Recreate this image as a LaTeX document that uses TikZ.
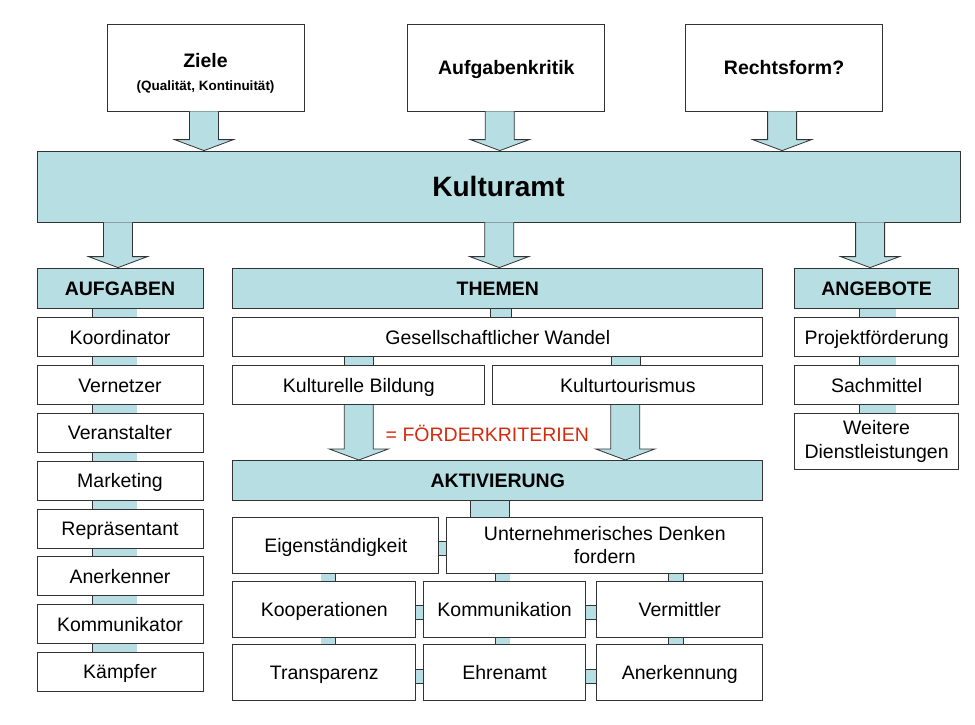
\documentclass[tikz,border=0pt]{standalone}
\usepackage{fontspec}
\setmainfont{Liberation Sans}
\usepackage{tikz}
\usetikzlibrary{positioning, calc, backgrounds}
\definecolor{boxblue}{HTML}{B7DEE3}
\definecolor{linegray}{HTML}{333333}
\definecolor{fkred}{HTML}{D42A0E}

\newcommand{\txtnorm}{\fontsize{19.5}{23.5}\selectfont}
\newcommand{\txthead}{\fontsize{19.5}{23.5}\selectfont\bfseries}
\newcommand{\txttitle}{\fontsize{19.5}{23}\selectfont\bfseries}
\newcommand{\txtsmall}{\fontsize{13.5}{16}\selectfont\bfseries}
\newcommand{\txtbig}{\fontsize{28}{32}\selectfont\bfseries}

% block arrow: [x shift]{start point}{target node}
\newcommand{\bigarrow}[3][0]{%
  \path #2 ++(#1,0) coordinate (ba-top);
  \coordinate (ba-tip) at (ba-top |- #3.north);
  \filldraw[bigarr] ($(ba-top)+(-14.5,0)$) -- ($(ba-tip)+(-14.5,11)$)
    -- ($(ba-tip)+(-29.5,11)$) -- (ba-tip) -- ($(ba-tip)+(29.5,11)$)
    -- ($(ba-tip)+(14.5,11)$) -- ($(ba-top)+(14.5,0)$);
}

\begin{document}
\begin{tikzpicture}[x=1pt, y=1pt,
    box/.style={rectangle, draw=linegray, fill=white, line width=0.8pt,
                inner sep=0pt, minimum width=166pt, minimum height=39pt,
                text height=18pt, text depth=4pt,
                align=center, font=\txtnorm},
    multi/.style={text height=, text depth=},
    head/.style={box, fill=boxblue, minimum height=40pt, font=\txthead},
    tall/.style={box, minimum height=56pt},
    goalbox/.style={box, minimum width=197pt, minimum height=87pt, font=\txttitle},
    link/.style={draw=linegray, line width=0.8pt, double=boxblue, double distance=#1},
    bigarr/.style={draw=linegray, fill=boxblue, line width=0.8pt},
    node distance=8pt
]
    \useasboundingbox (0,0) rectangle (975,-724);

    % Top row
    \node[goalbox, multi] (ziele) at (205.5,-67.5) {\rule{0pt}{26pt}Ziele\\{\txtsmall (Qualität, Kontinuität)}};
    \node[goalbox, right=103pt of ziele] (akritik) {Aufgabenkritik};
    \node[goalbox, right=80pt of akritik] (rform) {Rechtsform?};

    % Kulturamt
    \node[head, minimum width=923pt, minimum height=71pt, font=\txtbig,
          text height=25pt, text depth=5pt] (amt) at (498.5,-186.5) {Kulturamt};

    % Column heads
    \node[head] (aufg) at (120,-288) {AUFGABEN};
    \node[head, minimum width=530pt, right=29pt of aufg] (themen) {THEMEN};
    \node[head, minimum width=164pt, right=31pt of themen] (angeb) {ANGEBOTE};

    % Aufgaben
    \node[box, below=9pt of aufg] (koord) {Koordinator};
    \node[box, below=of koord] (vernetz) {Vernetzer};
    \node[box, below=of vernetz] (veranst) {Veranstalter};
    \node[box, below=of veranst] (market) {Marketing};
    \node[box, below=of market] (repr) {Repräsentant};
    \node[box, below=of repr] (anerkr) {Anerkenner};
    \node[box, below=of anerkr] (kommr) {Kommunikator};
    \node[box, below=of kommr] (kaempf) {Kämpfer};

    % Themen
    \node[box, minimum width=530pt, below=9pt of themen] (wandel) {Gesellschaftlicher Wandel};
    \node[box, minimum width=252pt, below=of wandel.south west, anchor=north west] (bildung) {Kulturelle Bildung};
    \node[box, minimum width=270pt, below=of wandel.south east, anchor=north east] (tourism) {Kulturtourismus};
    \node[font=\txtnorm, text=fkred] (krit) at ($(bildung.south)!0.5!(tourism.south)+(-6,-28)$) {= FÖRDERKRITERIEN};
    \node[head, minimum width=530pt, below=55pt of bildung.south west, anchor=north west] (aktiv) {AKTIVIERUNG};

    % Aktivierung
    \node[tall, minimum width=206pt, below=16pt of aktiv.south west, anchor=north west] (eigen) {Eigenständigkeit};
    \node[tall, multi, minimum width=316pt, below=16pt of aktiv.south east, anchor=north east] (unternehm) {Unternehmerisches Denken\\fordern};
    \node[tall, minimum width=183pt, below=7pt of eigen.south west, anchor=north west] (koop) {Kooperationen};
    \node[tall, minimum width=162pt, right=7pt of koop] (kommun) {Kommunikation};
    \node[tall, minimum width=166pt, below=7pt of unternehm.south east, anchor=north east] (vermitt) {Vermittler};
    \node[tall, minimum width=183pt, below=7pt of koop] (transp) {Transparenz};
    \node[tall, minimum width=162pt, below=7pt of kommun] (ehren) {Ehrenamt};
    \node[tall, minimum width=166pt, below=7pt of vermitt] (anerk) {Anerkennung};

    % Angebote
    \node[box, minimum width=164pt, below=9pt of angeb] (projekt) {Projektförderung};
    \node[box, minimum width=164pt, below=of projekt] (sach) {Sachmittel};
    \node[tall, multi, minimum width=164pt, below=of sach] (dienst) {Weitere\\Dienstleistungen};

    % Connectors
    \begin{pgfonlayer}{background}
        \foreach \a/\b in {aufg/koord, koord/vernetz, vernetz/veranst, veranst/market,
                           market/repr, repr/anerkr, anerkr/kommr, kommr/kaempf}
            \draw[link=44pt] ($(\a.south)+(-5.5,0)$) -- ($(\b.north)+(-5.5,0)$);
        \foreach \a/\b in {angeb/projekt, projekt/sach, sach/dienst}
            \draw[link=36pt] ($(\a.south)+(1,0)$) -- ($(\b.north)+(1,0)$);
        \draw[link=20pt] ($(themen.south)+(3,0)$) -- ($(wandel.north)+(3,0)$);
        \draw[link=28pt] (wandel.south -| bildung.north) -- (bildung.north);
        \draw[link=28pt] ($(wandel.south -| tourism.north)+(-2,0)$) -- ($(tourism.north)+(-2,0)$);
        \draw[link=38pt] ($(aktiv.south)+(-8,0)$) -- ($(aktiv.south |- unternehm.north)+(-8,0)$);
        \foreach \a/\b/\dx in {eigen/koop/4, koop/transp/4, unternehm/kommun/-2,
                               kommun/ehren/-2, unternehm/vermitt/-4, vermitt/anerk/-4}
            \draw[link=14pt] ($(\a.south -| \b.north)+(\dx,0)$) -- ($(\b.north)+(\dx,0)$);
        \foreach \a/\b in {eigen/unternehm, koop/kommun, kommun/vermitt, transp/ehren, ehren/anerk}
            \draw[link=13pt] ($(\a.east)+(0,-3.5)$) -- ($(\b.west |- \a.east)+(0,-3.5)$);
    \end{pgfonlayer}

    % Block arrows
    \bigarrow[-1.5]{(ziele.south)}{amt}
    \bigarrow[-6.5]{(akritik.south)}{amt}
    \bigarrow[-2]{(rform.south)}{amt}
    \bigarrow[-2]{(amt.south -| aufg.north)}{aufg}
    \bigarrow[1.5]{(amt.south -| themen.north)}{themen}
    \bigarrow[-6.5]{(amt.south -| angeb.north)}{angeb}
    \bigarrow{(bildung.south)}{aktiv}
    \bigarrow[-2.5]{(tourism.south)}{aktiv}
\end{tikzpicture}
\end{document}
